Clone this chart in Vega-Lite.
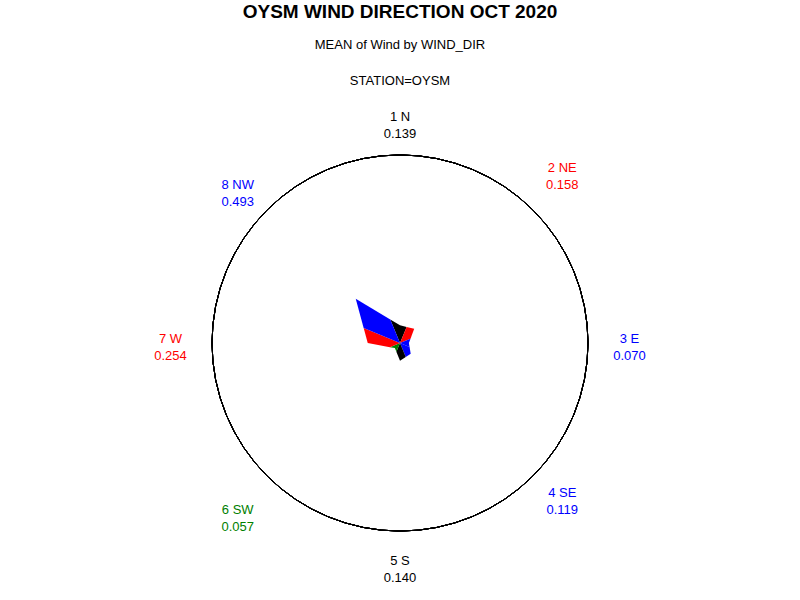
{
  "$schema": "https://vega.github.io/schema/vega-lite/v6.json",
  "width": 800,
  "height": 514,
  "autosize": "none",
  "padding": {"top": 86, "left": 0, "right": 0, "bottom": 0},
  "background": "white",
  "config": {"view": {"stroke": null}, "font": "Liberation Sans"},
  "title": {
    "text": "OYSM WIND DIRECTION OCT 2020",
    "subtitle": ["MEAN of Wind by WIND_DIR", "STATION=OYSM"],
    "anchor": "middle",
    "frame": "group",
    "font": "Liberation Sans",
    "fontSize": 19,
    "fontWeight": "bold",
    "color": "black",
    "subtitleFont": "Liberation Sans",
    "subtitleFontSize": 13,
    "subtitleColor": "black",
    "subtitleLineHeight": 36,
    "subtitlePadding": 17,
    "offset": -2
  },
  "datasets": {
    "wind": [
      {"idx": 1, "dir": "1 N", "value": 0.139},
      {"idx": 2, "dir": "2 NE", "value": 0.158},
      {"idx": 3, "dir": "3 E", "value": 0.070},
      {"idx": 4, "dir": "4 SE", "value": 0.119},
      {"idx": 5, "dir": "5 S", "value": 0.140},
      {"idx": 6, "dir": "6 SW", "value": 0.057},
      {"idx": 7, "dir": "7 W", "value": 0.254},
      {"idx": 8, "dir": "8 NW", "value": 0.493}
    ]
  },
  "data": {"name": "wind"},
  "transform": [
    {"calculate": "(datum.idx - 1) * PI / 4", "as": "theta"}
  ],
  "layer": [
    {
      "mark": {"type": "point", "shape": "circle", "size": 141376, "filled": false, "stroke": "black", "strokeWidth": 1, "opacity": 1},
      "encoding": {
        "x": {"datum": 0, "type": "quantitative", "scale": {"domain": [-3.1496, 3.1496], "nice": false, "zero": false}, "axis": null},
        "y": {"datum": 0, "type": "quantitative", "scale": {"domain": [-2.0236, 2.0236], "nice": false, "zero": false}, "axis": null}
      }
    },
    {
      "transform": [
        {"calculate": "(datum.idx + 6) % 8 + 1", "as": "prevIdx"},
        {"calculate": "datum.idx % 8 + 1", "as": "nextIdx"},
        {"lookup": "prevIdx", "from": {"data": {"name": "wind"}, "key": "idx", "fields": ["value"]}, "as": ["prevValue"]},
        {"lookup": "nextIdx", "from": {"data": {"name": "wind"}, "key": "idx", "fields": ["value"]}, "as": ["nextValue"]},
        {"calculate": "0", "as": "v0"},
        {"calculate": "2 * datum.prevValue * datum.value * cos(PI / 8) / (datum.prevValue + datum.value)", "as": "v1"},
        {"calculate": "datum.value", "as": "v2"},
        {"calculate": "2 * datum.value * datum.nextValue * cos(PI / 8) / (datum.value + datum.nextValue)", "as": "v3"},
        {"fold": ["v0", "v1", "v2", "v3"], "as": ["vertex", "r"]},
        {"calculate": "datum.theta + (datum.vertex == 'v1' ? -PI / 8 : (datum.vertex == 'v3' ? PI / 8 : 0))", "as": "a"},
        {"calculate": "datum.r * sin(datum.a)", "as": "px"},
        {"calculate": "datum.r * cos(datum.a)", "as": "py"}
      ],
      "mark": {"type": "line", "filled": true, "interpolate": "linear", "strokeWidth": 0},
      "encoding": {
        "x": {"field": "px", "type": "quantitative", "scale": {"domain": [-3.1496, 3.1496], "nice": false, "zero": false}, "axis": null},
        "y": {"field": "py", "type": "quantitative", "scale": {"domain": [-2.0236, 2.0236], "nice": false, "zero": false}, "axis": null},
        "order": {"field": "vertex", "type": "ordinal"},
        "detail": {"field": "dir", "type": "nominal"},
        "color": {
          "field": "dir", "type": "nominal", "legend": null,
          "scale": {"domain": ["1 N", "2 NE", "3 E", "4 SE", "5 S", "6 SW", "7 W", "8 NW"],
                    "range": ["#000000", "#FF0000", "#0000FF", "#0000FF", "#000000", "#008000", "#FF0000", "#0000FF"]}
        }
      }
    },
    {
      "transform": [
        {"calculate": "datum.dir + '\\n' + format(datum.value, '.3f')", "as": "label"},
        {"calculate": "229.5 * sin(datum.theta) / 127", "as": "lx"},
        {"calculate": "((datum.idx % 2 == 0 ? 230.5 : 222.35) * cos(datum.theta) + 4 + (datum.idx % 2 == 0 ? (datum.idx < 5 ? 8.5 : -8.5) : 0)) / 127", "as": "ly"}
      ],
      "mark": {"type": "text", "fontSize": 13, "font": "Liberation Sans", "lineBreak": "\n", "lineHeight": 17, "align": "center", "baseline": "middle"},
      "encoding": {
        "x": {"field": "lx", "type": "quantitative", "scale": {"domain": [-3.1496, 3.1496], "nice": false, "zero": false}, "axis": null},
        "y": {"field": "ly", "type": "quantitative", "scale": {"domain": [-2.0236, 2.0236], "nice": false, "zero": false}, "axis": null},
        "text": {"field": "label", "type": "nominal"},
        "color": {
          "field": "dir", "type": "nominal", "legend": null,
          "scale": {"domain": ["1 N", "2 NE", "3 E", "4 SE", "5 S", "6 SW", "7 W", "8 NW"],
                    "range": ["#000000", "#FF0000", "#0000FF", "#0000FF", "#000000", "#008000", "#FF0000", "#0000FF"]}
        }
      }
    }
  ]
}
